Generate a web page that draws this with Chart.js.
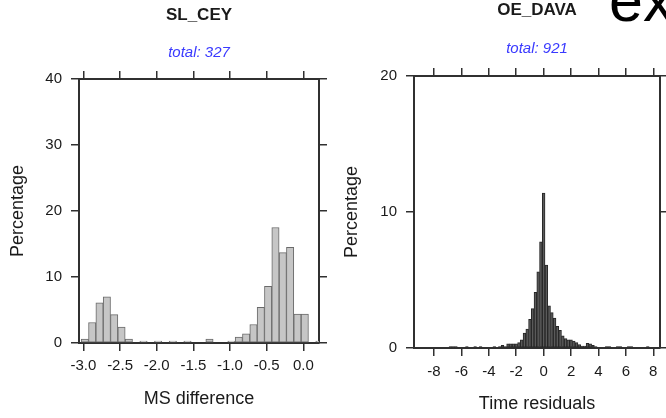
<!DOCTYPE html>
<html>
<head>
<meta charset="utf-8">
<script src="https://cdn.jsdelivr.net/npm/chart.js@4.4.0/dist/chart.umd.min.js"></script>
<style>
  body { margin: 0; background: #fff; }
  #wrap { position: relative; width: 666px; height: 418px; overflow: hidden; }
  canvas { position: absolute; left: 0; top: 0; }
  #ex { position: absolute; left: 609px; top: -30px; font: 61px/61px "Liberation Sans", Arial, sans-serif; color: #000; white-space: nowrap; }
</style>
</head>
<body>
<div id="wrap">
  <canvas id="msChart" width="666" height="418"></canvas>
  <canvas id="timeChart" width="666" height="418"></canvas>
  <div id="ex">ex</div>
</div>
<script>
// Левая гистограмма — SL_CEY (центры бинов и проценты)
const msBins = [-2.98, -2.88, -2.78, -2.68, -2.58, -2.48, -2.38, -2.28, -2.18, -2.08, -1.98,
                -1.88, -1.78, -1.68, -1.58, -1.48, -1.38, -1.28, -1.18, -1.08, -0.98, -0.88,
                -0.78, -0.68, -0.58, -0.48, -0.38, -0.28, -0.18, -0.08, 0.02, 0.12, 0.22];
const msPercent = [0.6, 3.1, 6.1, 7.0, 4.3, 2.4, 0.6, 0, 0.3, 0, 0.3,
                   0, 0.3, 0, 0.3, 0, 0, 0.6, 0, 0, 0.3, 0.9,
                   1.4, 2.8, 5.4, 8.6, 17.5, 13.7, 14.5, 4.4, 4.4, 0, 0.3];
const msTicks = [-3.0, -2.5, -2.0, -1.5, -1.0, -0.5, 0.0];
const msYTicks = [0, 10, 20, 30, 40];

// Правая гистограмма — OE_DAVA
const timeBins = [-7.0, -6.8, -6.6, -6.4, -6.2, -6.0, -5.8, -5.6, -5.4, -5.2, -5.0, -4.8, -4.6, -4.4,
                  -4.2, -4.0, -3.8, -3.6, -3.4, -3.2, -3.0, -2.8, -2.6, -2.4, -2.2, -2.0, -1.8, -1.6,
                  -1.4, -1.2, -1.0, -0.8, -0.6, -0.4, -0.2, 0.0, 0.2, 0.4, 0.6, 0.8, 1.0, 1.2,
                  1.4, 1.6, 1.8, 2.0, 2.2, 2.4, 2.6, 2.8, 3.0, 3.2, 3.4, 3.6, 3.8, 4.0,
                  4.2, 4.4, 4.6, 4.8, 5.0, 5.2, 5.4, 5.6, 5.8, 6.0, 6.2, 6.4, 6.6, 6.8,
                  7.0, 7.2, 7.4, 7.6];
const timePercent = [0, 0.1, 0.1, 0.1, 0, 0, 0, 0.1, 0, 0, 0.1, 0, 0.1, 0,
                     0, 0, 0, 0.1, 0, 0.1, 0.2, 0.1, 0.3, 0.3, 0.3, 0.3, 0.4, 0.6,
                     1.1, 1.4, 2.1, 2.9, 4.1, 5.6, 7.8, 11.4, 6.1, 3.1, 2.6, 2.2, 1.6, 1.3,
                     0.9, 0.7, 0.6, 0.6, 0.5, 0.4, 0.25, 0.15, 0.15, 0.35, 0.3, 0.2, 0.1, 0,
                     0, 0, 0.1, 0.1, 0, 0, 0.1, 0.1, 0, 0, 0.1, 0.1, 0, 0,
                     0, 0, 0, 0.1];
const timeTicks = [-8, -6, -4, -2, 0, 2, 4, 6, 8];
const timeYTicks = [0, 10, 20];

const FONT = '"Liberation Sans", Arial, Helvetica, sans-serif';
Chart.defaults.font.family = FONT;
Chart.defaults.color = '#1a1a1a';

// Общая функция построения гистограммы
function histogram(id, o) {
  const setTicks = list => scale => { scale.ticks = list.map(v => ({ value: v })); };
  const fixed = (prop, size) => scale => { scale[prop] = size; };
  const line = '#303030';
  const grid = len => ({ drawOnChartArea: false, offset: false, tickLength: len, color: line, lineWidth: 1.5 });
  const border = { display: true, color: line, width: 2 };

  return new Chart(document.getElementById(id), {
    type: 'bar',
    data: {
      datasets: [{
        data: o.bins.map((b, i) => ({ x: b, y: o.values[i] })),
        backgroundColor: o.fill,
        borderColor: o.stroke,
        borderWidth: 1,
        borderSkipped: false,
        barPercentage: 1,
        categoryPercentage: 1
      }]
    },
    options: {
      responsive: false,
      animation: false,
      layout: { padding: o.padding },
      plugins: {
        legend: { display: false },
        tooltip: { enabled: false },
        title: {
          display: true, text: o.title, fullSize: false, color: '#1a1a1a',
          font: { size: 17, weight: 'bold' }, padding: o.titlePad
        },
        subtitle: {
          display: true, text: o.subtitle, fullSize: false, color: '#3a3aff',
          font: { size: 15, style: 'italic' }, padding: o.subPad
        }
      },
      scales: {
        x: {
          type: 'linear', position: 'bottom', min: o.xMin, max: o.xMax, offset: false,
          grid: grid(8), border,
          ticks: { font: { size: 15 }, padding: o.xTickPad, callback: o.xFormat },
          afterBuildTicks: setTicks(o.xTicks),
          title: { display: true, text: o.xTitle, font: { size: 18 }, padding: { top: 0, bottom: o.xTitlePad } },
          afterFit: fixed('height', o.xHeight)
        },
        xTop: {
          type: 'linear', position: 'top', min: o.xMin, max: o.xMax, offset: false,
          grid: grid(8), border, ticks: { display: false },
          afterBuildTicks: setTicks(o.xTicks),
          afterFit: fixed('height', 8)
        },
        y: {
          type: 'linear', position: 'left', min: 0, max: o.yMax,
          grid: grid(8), border,
          ticks: { font: { size: 15 }, padding: 9 },
          afterBuildTicks: setTicks(o.yTicks),
          title: { display: true, text: 'Percentage', font: { size: 18 }, padding: { top: o.yTitlePad, bottom: 0 } },
          afterFit: fixed('width', o.yWidth)
        },
        yRight: {
          type: 'linear', position: 'right', min: 0, max: o.yMax,
          grid: grid(o.rightTick), border, ticks: { display: false },
          afterBuildTicks: setTicks(o.yTicks),
          afterFit: fixed('width', o.rightTick)
        }
      }
    }
  });
}

histogram('msChart', {
  bins: msBins, values: msPercent, xTicks: msTicks, yTicks: msYTicks,
  xMin: -3.06, xMax: 0.214, yMax: 40,
  fill: '#c6c6c6', stroke: '#6a6a6a',
  title: 'SL_CEY', subtitle: 'total: 327', xTitle: 'MS difference',
  xFormat: v => v.toFixed(1),
  padding: { left: 0, right: 339, top: 0, bottom: 0 },
  titlePad: { top: 4.8, bottom: 0 }, subPad: { top: 18.8, bottom: 9 },
  xHeight: 75, xTickPad: 6, xTitlePad: 8.2,
  yWidth: 79, yTitlePad: 7.2, rightTick: 8
});

histogram('timeChart', {
  bins: timeBins, values: timePercent, xTicks: timeTicks, yTicks: timeYTicks,
  xMin: -9.46, xMax: 8.49, yMax: 20,
  fill: '#5a5a5a', stroke: '#262626',
  title: 'OE_DAVA', subtitle: 'total: 921', xTitle: 'Time residuals',
  xFormat: v => String(v),
  padding: { left: 333, right: 0, top: 0, bottom: 0 },
  titlePad: { top: 0, bottom: 0 }, subPad: { top: 19.6, bottom: 10 },
  xHeight: 70, xTickPad: 7, xTitlePad: 3.2,
  yWidth: 81, yTitlePad: 8.2, rightTick: 6
});
</script>
</body>
</html>
